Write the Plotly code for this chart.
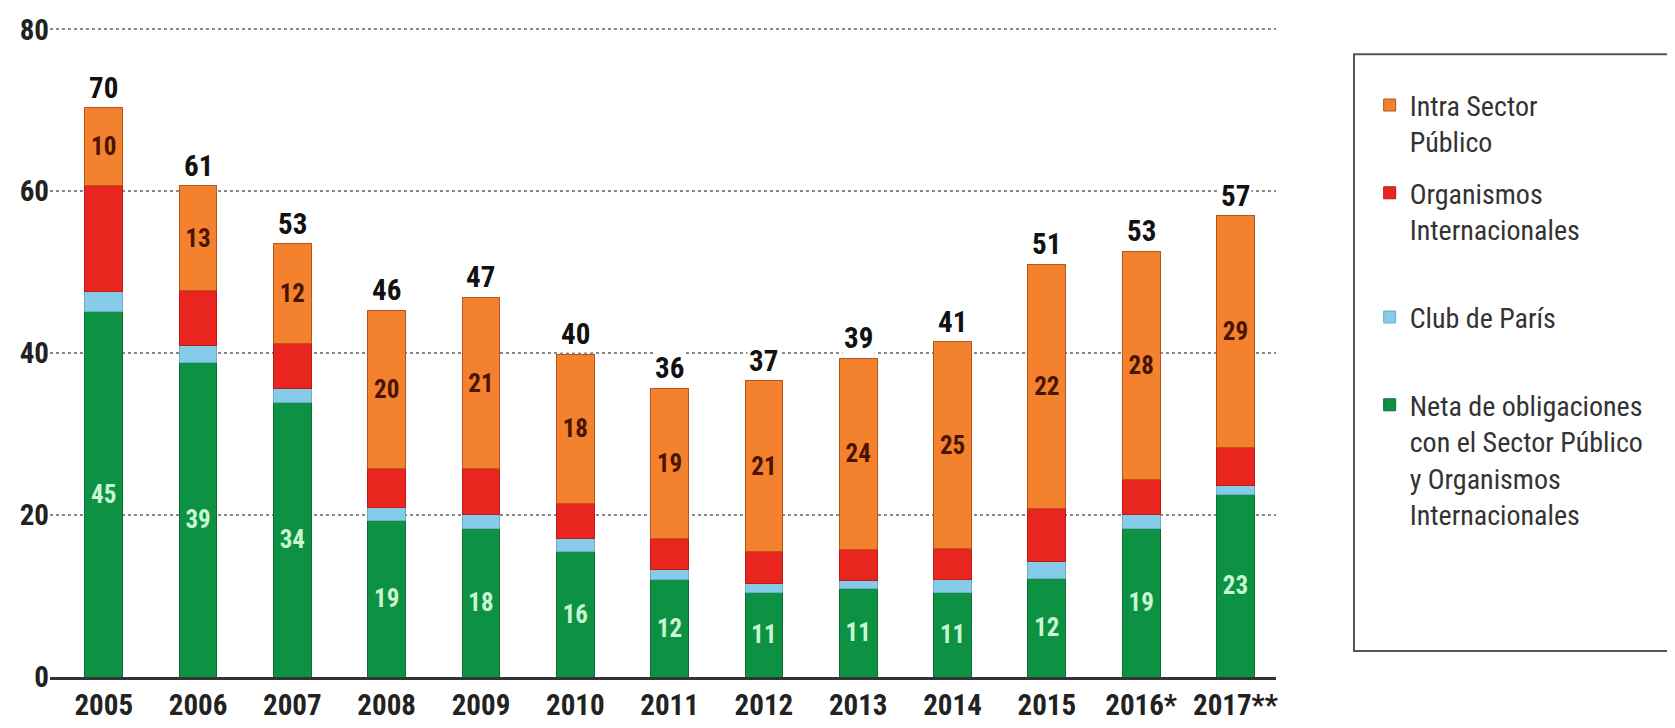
import plotly.graph_objects as go

# years on the x axis
years = ["2005", "2006", "2007", "2008", "2009", "2010", "2011",
         "2012", "2013", "2014", "2015", "2016*", "2017**"]

# segment heights as drawn
neta = [45.2, 38.9, 33.9, 19.3, 18.4, 15.5, 12.1, 10.5, 10.9, 10.4, 12.2, 18.4, 22.5]
club_paris = [2.4, 2.1, 1.7, 1.7, 1.7, 1.6, 1.2, 1.1, 1.0, 1.6, 2.1, 1.7, 1.2]
organismos = [13.1, 6.7, 5.6, 4.7, 5.6, 4.3, 3.8, 3.9, 3.9, 3.9, 6.5, 4.3, 4.7]
intra = [9.6, 13.0, 12.3, 19.6, 21.2, 18.5, 18.6, 21.1, 23.6, 25.5, 30.2, 28.2, 28.6]

# printed labels
neta_labels = [45, 39, 34, 19, 18, 16, 12, 11, 11, 11, 12, 19, 23]
intra_labels = [10, 13, 12, 20, 21, 18, 19, 21, 24, 25, 22, 28, 29]
totals = [70, 61, 53, 46, 47, 40, 36, 37, 39, 41, 51, 53, 57]

FONT = "Liberation Sans Narrow, Roboto Condensed, Liberation Sans, sans-serif"

fig = go.Figure()

fig.add_trace(go.Bar(
    x=years, y=neta, name="Neta de obligaciones<br>con el Sector Público<br>y Organismos<br>Internacionales",
    marker=dict(color="#0d9142", line=dict(color="#0a6e33", width=1)),
    text=neta_labels, textposition="inside", insidetextanchor="middle", textangle=0,
    textfont=dict(family=FONT, size=25, color="#c9f7d3", weight="bold"),
    legendgroup="neta", legendrank=4))

fig.add_trace(go.Bar(
    x=years, y=club_paris, name="Club de París<br> ",
    marker=dict(color="#86cbe8", line=dict(color="#6aaecb", width=1)),
    textposition="none", legendgroup="club", legendrank=3))

fig.add_trace(go.Bar(
    x=years, y=organismos, name="Organismos<br>Internacionales<br> ",
    marker=dict(color="#e8261f", line=dict(color="#b81d18", width=1)),
    textposition="none", legendgroup="org", legendrank=2))

fig.add_trace(go.Bar(
    x=years, y=intra, name="Intra Sector<br>Público",
    marker=dict(color="#f3812e", line=dict(color="#b5561a", width=1)),
    text=intra_labels, textposition="inside", insidetextanchor="middle", textangle=0,
    textfont=dict(family=FONT, size=25, color="#4a1500", weight="bold"),
    legendgroup="intra", legendrank=1))

# totals above each bar (x given as category index)
for i, yr in enumerate(years):
    top = neta[i] + club_paris[i] + organismos[i] + intra[i]
    fig.add_annotation(
        x=i, y=top, text=str(totals[i]), showarrow=False,
        yanchor="bottom", yshift=1, bgcolor="white",
        font=dict(family=FONT, size=29, color="#111", weight="bold"))

# legend frame
fig.add_shape(type="rect", xref="paper", yref="paper",
              x0=1.0636, x1=1.337, y0=0.040, y1=0.958,
              line=dict(color="#555", width=2), fillcolor="rgba(0,0,0,0)")

fig.update_layout(
    width=1675, height=728,
    barmode="stack", bargap=0.6,
    plot_bgcolor="white", paper_bgcolor="white",
    margin=dict(l=42, r=407, t=19, b=59),
    font=dict(family=FONT, color="#222"),
    xaxis=dict(
        type="category", automargin=False, range=[-0.57, 12.43],
        showline=True, linecolor="#333", linewidth=3,
        showgrid=False, ticks="",
        tickfont=dict(family=FONT, size=29, color="#222", weight="bold")),
    yaxis=dict(
        range=[0, 80.3], tickvals=[0, 20, 40, 60, 80], automargin=False,
        showgrid=True, gridcolor="#888", griddash="dot", gridwidth=2,
        zeroline=False, showline=False, ticks="",
        tickfont=dict(family=FONT, size=29, color="#222", weight="bold")),
    legend=dict(
        x=1.0764, y=0.918, xanchor="left", yanchor="top",
        traceorder="grouped", tracegroupgap=12, valign="top",
        borderwidth=0, bgcolor="rgba(0,0,0,0)",
        font=dict(family=FONT, size=28, color="#333"),
        itemwidth=30),
)

fig.write_html("out.html")
